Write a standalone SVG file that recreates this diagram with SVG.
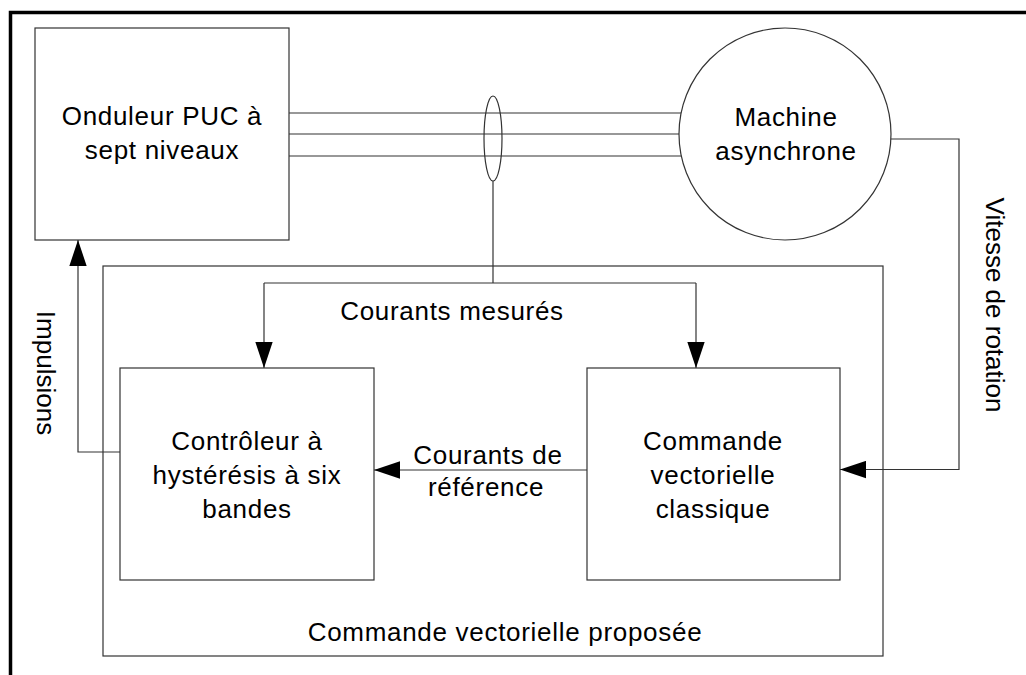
<svg xmlns="http://www.w3.org/2000/svg" width="1026" height="675" viewBox="0 0 1026 675">
<defs>
<style>
.box{fill:#fff;stroke:#333;stroke-width:1.2}
.ln{fill:none;stroke:#333;stroke-width:1.2}
.t{font-family:"Liberation Sans",Arial,sans-serif;font-size:26px;fill:#000;text-anchor:middle;letter-spacing:0.7px}
.v{font-family:"Liberation Sans",Arial,sans-serif;font-size:26px;fill:#000;text-anchor:middle}
</style>
<marker id="ah" markerUnits="userSpaceOnUse" markerWidth="26" markerHeight="18" viewBox="0 0 24 16" refX="24" refY="8" orient="auto">
<path d="M0,0 L24,8 L0,16 Z" fill="#000"/>
</marker>
</defs>
<rect width="1026" height="675" fill="#fff"/>
<path d="M10.5,700 L10.5,12.5 L1040,12.5" fill="none" stroke="#000" stroke-width="3.5"/>
<g id="onduleur">
<rect class="box" x="35" y="28" width="254" height="212"/>
<text class="t" x="162" y="125">Onduleur PUC à</text>
<text class="t" x="162" y="159">sept niveaux</text>
</g>
<g id="connectors">
<path class="ln" d="M289,113 H682 M289,134 H679 M289,156 H682"/>
<ellipse class="ln" cx="493" cy="138.5" rx="9" ry="42.5"/>
<path class="ln" d="M493,181 V283"/>
<path class="ln" d="M264,283 H696"/>
<path class="ln" d="M264,283 V368" marker-end="url(#ah)"/>
<path class="ln" d="M696,283 V368" marker-end="url(#ah)"/>
<path class="ln" d="M891,139 H959 V469.5 H840" marker-end="url(#ah)"/>
<path class="ln" d="M587,470 H374" marker-end="url(#ah)"/>
<path class="ln" d="M120,452 H78 V240" marker-end="url(#ah)"/>
<text class="t" x="452" y="320">Courants mesurés</text>
<text class="t" x="488" y="464">Courants de</text>
<text class="t" x="486" y="496">référence</text>
<text class="v" transform="translate(37,373) rotate(90)">Impulsions</text>
<text class="v" transform="translate(986,305) rotate(90)">Vitesse de rotation</text>
</g>
<g id="machine">
<circle class="box" cx="785" cy="134" r="106"/>
<text class="t" x="786" y="126">Machine</text>
<text class="t" x="786" y="160">asynchrone</text>
</g>
<g id="proposee">
<rect class="box" x="103" y="266" width="780" height="390" style="fill:none"/>
<text class="t" x="505" y="641">Commande vectorielle proposée</text>
</g>
<g id="controleur">
<rect class="box" x="120" y="368" width="254" height="212"/>
<text class="t" x="247" y="450">Contrôleur à</text>
<text class="t" x="247" y="484">hystérésis à six</text>
<text class="t" x="247" y="518">bandes</text>
</g>
<g id="commande">
<rect class="box" x="587" y="368" width="253" height="212"/>
<text class="t" x="713" y="450">Commande</text>
<text class="t" x="713" y="484">vectorielle</text>
<text class="t" x="713" y="518">classique</text>
</g>
</svg>
